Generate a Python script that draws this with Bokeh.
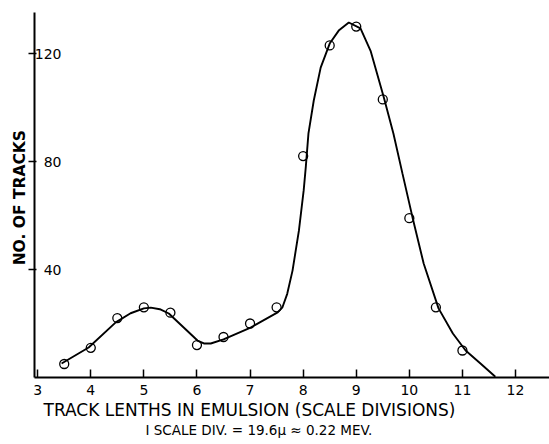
from bokeh.plotting import figure
from bokeh.models import Range1d, FixedTicker, Title
from bokeh.embed import file_html
from bokeh.resources import INLINE

# measured points
track_len = [3.5, 4.0, 4.5, 5.0, 5.5, 6.0, 6.5, 7.0, 7.5, 8.0, 8.5, 9.0, 9.5, 10.0, 10.5, 11.0]
n_tracks = [5, 11, 22, 26, 24, 12, 15, 20, 26, 82, 123, 130, 103, 59, 26, 10]

# hand-drawn smooth curve
curve_x = [3.45, 3.96, 4.47, 4.75, 5.0, 5.13, 5.3, 5.47, 5.75, 6.01, 6.13, 6.26, 6.5,
           7.01, 7.52, 7.61, 7.70, 7.80, 7.92, 8.01, 8.05, 8.10, 8.20, 8.33, 8.50,
           8.67, 8.86, 9.08, 9.27, 9.52, 9.70, 9.87, 10.06, 10.27, 10.55, 10.82,
           11.06, 11.34, 11.62]
curve_y = [5.2, 11.1, 20.4, 23.8, 25.6, 25.9, 25.3, 23.7, 18.5, 13.7, 12.6, 12.6, 14.1,
           18.5, 24.1, 26.0, 31.0, 39.6, 54.4, 69.3, 78.0, 90.4, 102.6, 114.8, 123.7,
           128.5, 131.5, 129.3, 121.0, 103.7, 90.4, 75.6, 59.3, 42.2, 25.6, 16.3,
           10.0, 5.2, 0.3]

x_ticks = [3, 4, 5, 6, 7, 8, 9, 10, 11, 12]
y_ticks = [40, 80, 120]

x_title = "TRACK  LENTHS  IN  EMULSION  (SCALE  DIVISIONS)"
x_subtitle = "I SCALE DIV. = 19.6\u03bc \u2248 0.22 MEV."
y_title = "NO. OF  TRACKS"

FONT = "DejaVu Sans"
W, H = 549, 444

p = figure(width=W, height=H, output_backend="svg", toolbar_location=None,
           x_range=Range1d(2.94, 12.64), y_range=Range1d(0, 135.2),
           min_border_left=34, min_border_right=0, min_border_top=12,
           min_border_bottom=67)
p.outline_line_color = None
p.xgrid.visible = False
p.ygrid.visible = False
p.background_fill_color = "white"
p.border_fill_color = "white"

xa = p.xaxis[0]
xa.ticker = FixedTicker(ticks=x_ticks)
xa.major_tick_in = 8
xa.major_tick_out = 0
xa.minor_tick_in = 0
xa.minor_tick_out = 0
xa.axis_line_width = 2
xa.major_tick_line_width = 1.5
xa.major_label_text_font = FONT
xa.major_label_text_font_size = "14px"
xa.major_label_text_color = "black"
xa.major_label_standoff = 7
xa.axis_line_color = "black"

ya = p.yaxis[0]
ya.ticker = FixedTicker(ticks=y_ticks)
ya.major_tick_in = 2
ya.major_tick_out = 6
ya.minor_tick_in = 0
ya.minor_tick_out = 0
ya.axis_line_width = 2
ya.major_tick_line_width = 1.5
ya.major_label_text_font = FONT
ya.major_label_text_font_size = "14px"
ya.major_label_text_color = "black"
ya.major_label_standoff = -33
ya.axis_line_color = "black"

p.line(curve_x, curve_y, line_color="black", line_width=1.9)
p.scatter(track_len, n_tracks, marker="circle", size=9, fill_alpha=0,
          line_color="black", line_width=1.3)

p.add_layout(Title(text=x_title, align="left", offset=9, standoff=0,
                   text_line_height=0.8,
                   text_font=FONT, text_font_size="17px", text_font_style="normal",
                   text_color="black"), "below")
p.add_layout(Title(text=x_subtitle, align="left", offset=111, standoff=0,
                   text_font=FONT, text_font_size="13.5px", text_font_style="normal",
                   text_color="black"), "below")
p.add_layout(Title(text=y_title, align="center", standoff=5,
                   text_font=FONT, text_font_size="15.5px", text_font_style="bold",
                   text_color="black"), "left")

open("out.html", "w").write(file_html(p, INLINE))
